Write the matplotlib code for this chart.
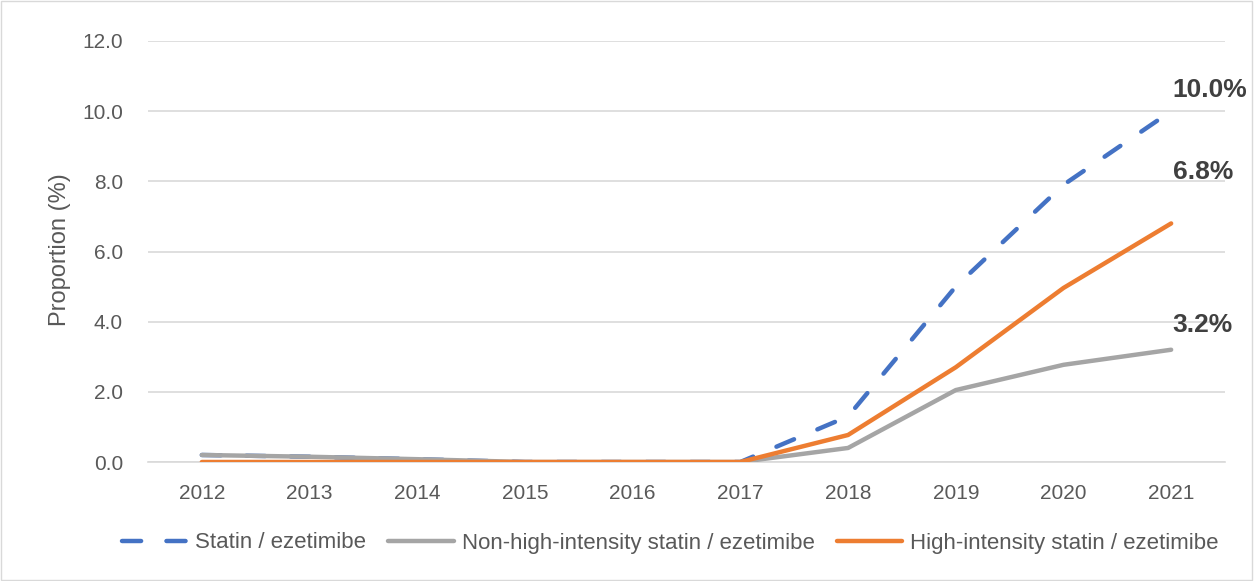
import matplotlib.pyplot as plt
from matplotlib.lines import Line2D

years = ["2012", "2013", "2014", "2015", "2016", "2017", "2018", "2019", "2020", "2021"]
statin_ezetimibe = [0.2, 0.15, 0.08, 0.0, 0.0, 0.0, 1.3, 5.0, 7.9, 10.0]
non_high_intensity = [0.2, 0.15, 0.08, 0.0, 0.0, 0.0, 0.4, 2.05, 2.77, 3.2]
high_intensity = [0.0, 0.0, 0.0, 0.0, 0.0, 0.0, 0.77, 2.7, 4.96, 6.8]
series_names = ["Statin / ezetimibe", "Non-high-intensity statin / ezetimibe",
                "High-intensity statin / ezetimibe"]
y_ticks = [0, 2, 4, 6, 8, 10, 12]

blue = "#4472C4"
gray = "#A5A5A5"
orange = "#ED7D31"
text_color = "#595959"

plt.rcParams["font.family"] = ["Liberation Sans", "DejaVu Sans"]

fig = plt.figure(figsize=(12.55, 5.81), dpi=100)
ax = fig.add_axes([148 / 1255, 1 - 462 / 581, (1225 - 148) / 1255, (462 - 41) / 581])

x = list(range(len(years)))
lw = 3.2
dash = (0, (4.3, 5.7))
ax.plot(x, statin_ezetimibe, color=blue, lw=lw, linestyle=dash,
        dash_capstyle="round", zorder=3)
ax.plot(x, non_high_intensity, color=gray, lw=lw, solid_capstyle="round",
        solid_joinstyle="round", zorder=4)
ax.plot(x, high_intensity, color=orange, lw=lw, solid_capstyle="round",
        solid_joinstyle="round", zorder=5)

# end-of-line value labels, lifted above each line's last point
for vals, lift in ((statin_ezetimibe, 15), (high_intensity, 37), (non_high_intensity, 18)):
    ax.annotate(f"{vals[-1]:.1f}%", xy=(x[-1], vals[-1]), xytext=(1, lift),
                textcoords="offset points", ha="left", va="center",
                fontsize=19, fontweight="bold", color="#404040")

ax.set_xlim(-0.5, len(years) - 0.5)
ax.set_ylim(0, 12)
ax.set_xticks(x)
ax.set_xticklabels(years)
ax.set_yticks(y_ticks)
ax.set_yticklabels([f"{t:.1f}" for t in y_ticks])
ax.tick_params(axis="both", length=0, labelsize=15, colors=text_color)
ax.tick_params(axis="x", pad=16)
ax.tick_params(axis="y", pad=18)
ax.grid(axis="y", color="#D9D9D9", lw=1.2)
ax.set_axisbelow(True)
for side in ("top", "right", "left"):
    ax.spines[side].set_visible(False)
ax.spines["bottom"].set_color("#D9D9D9")
ax.spines["bottom"].set_linewidth(1.2)
fig.text(60 / 1255, 1 - 250 / 581, "Proportion (%)", rotation=90, ha="center",
         va="center", fontsize=17, color=text_color)

handles = [
    Line2D([], [], color=blue, lw=lw, linestyle=(0, (4.3, 5.7)), dash_capstyle="round"),
    Line2D([], [], color=gray, lw=lw, solid_capstyle="round"),
    Line2D([], [], color=orange, lw=lw, solid_capstyle="round"),
]
fig.legend(handles, series_names, loc="center", bbox_to_anchor=(0.534, 1 - 543 / 581),
           ncol=3, frameon=False, fontsize=16, labelcolor=text_color,
           handlelength=2.95, columnspacing=1.0, handletextpad=0.35)

# thin outer border
fig.patches.append(plt.Rectangle((0.001, 0.002), 0.997, 0.996, transform=fig.transFigure,
                                 fill=False, edgecolor="#D9D9D9", lw=1))

fig.savefig("out.png", dpi=100)
